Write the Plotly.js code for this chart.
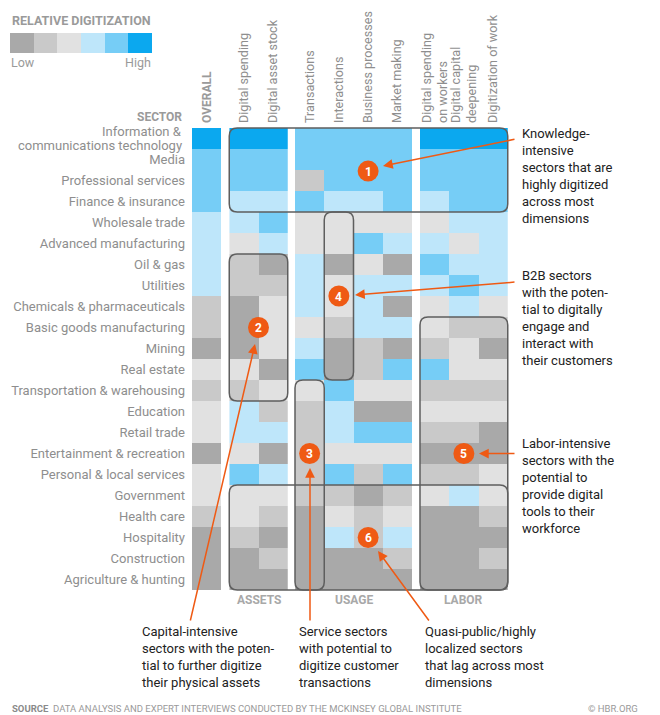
<!DOCTYPE html>
<html>
<head>
<meta charset="utf-8">
<script src="https://cdn.plot.ly/plotly-3.0.1.min.js"></script>
<style>html,body{margin:0;padding:0;background:#fff;}#chart{width:660px;height:715px;}</style>
</head>
<body>
<div id="chart"></div>
<script>
// ---------------- DATA ----------------
const sectors = [
  'Information &<br>communications technology', 'Media', 'Professional services', 'Finance & insurance',
  'Wholesale trade', 'Advanced manufacturing', 'Oil & gas', 'Utilities',
  'Chemicals & pharmaceuticals', 'Basic goods manufacturing', 'Mining', 'Real estate',
  'Transportation & warehousing', 'Education', 'Retail trade', 'Entertainment & recreation',
  'Personal & local services', 'Government', 'Health care', 'Hospitality',
  'Construction', 'Agriculture & hunting'
];
const overallCols = ['Overall'];
const assetCols = ['Digital spending', 'Digital asset stock'];
const usageCols = ['Transactions', 'Interactions', 'Business processes', 'Market making'];
const laborCols = ['Digital spending<br>on workers', 'Digital capital<br>deepening', 'Digitization of work'];
const groupLabels = ['ASSETS', 'USAGE', 'LABOR'];

// levels: 1 = low (dark gray) ... 6 = high (strong blue)
const overall            = [6,5,5,5,4,4,4,4,2,2,1,3,2,3,3,1,3,3,2,1,1,1];
const digitalSpending    = [6,5,5,4,4,3,2,2,1,1,1,3,2,4,4,3,5,3,3,2,1,1];
const digitalAssetStock  = [6,5,5,4,5,4,1,2,3,3,3,1,3,2,4,1,4,3,2,1,2,1];
const transactions       = [5,5,2,5,3,3,4,4,4,3,4,5,3,2,2,2,2,2,1,1,1,1];
const interactions       = [5,5,5,4,3,3,1,3,3,2,1,1,5,4,4,3,5,2,3,4,1,1];
const businessProcesses  = [5,5,5,4,3,5,3,4,4,4,2,2,3,1,5,3,2,1,2,2,1,1];
const marketMaking       = [5,5,5,5,3,4,1,4,1,4,1,5,3,1,5,3,5,2,3,4,2,1];
const spendingOnWorkers  = [6,5,5,4,3,4,5,4,3,3,2,5,2,3,2,1,2,3,1,1,1,1];
const capitalDeepening   = [6,5,5,5,4,3,4,5,4,2,3,3,2,3,2,1,2,4,1,1,1,1];
const digitizationOfWork = [6,5,5,5,4,4,4,4,3,2,1,3,2,3,1,1,3,3,2,1,2,1];
const legendLevels = [1,2,3,4,5,6];

const levelColors = ['#a9a9a9','#c9c9c9','#e1e1e1','#bee6fa','#76cdf6','#0ba8ef'];

// ---------------- GEOMETRY ----------------
const W = 660, H = 715;
const px = x => x / W;
const py = y => 1 - y / H;
const cellW = 29.25, rowH = 21, gridTop = 128;
const gridBottom = gridTop + sectors.length * rowH;
const groupLeft = [192, 229.25, 295, 420];
const groupSizes = [overallCols.length, assetCols.length, usageCols.length, laborCols.length];

function colLeft(ci) {
  let g = 0, idx = ci;
  while (idx >= groupSizes[g]) { idx -= groupSizes[g]; g++; }
  return groupLeft[g] + idx * cellW;
}
const cellX = (ci, f) => colLeft(ci) + f * cellW;
const cellY = r => gridTop + r * rowH;

// discrete colorscale
const cs = [];
levelColors.forEach((c, i) => { cs.push([i / 6, c]); cs.push([(i + 1) / 6, c]); });

function matrix(cols) {
  return sectors.map((s, r) => cols.map(c => c[r]));
}

const groups = [
  {cols: overallCols, data: [overall]},
  {cols: assetCols, data: [digitalSpending, digitalAssetStock]},
  {cols: usageCols, data: [transactions, interactions, businessProcesses, marketMaking]},
  {cols: laborCols, data: [spendingOnWorkers, capitalDeepening, digitizationOfWork]}
];

const traces = groups.map((g, i) => ({
  type: 'heatmap',
  x: g.cols, y: sectors, z: matrix(g.data),
  xaxis: i === 0 ? 'x' : 'x' + (i + 1), yaxis: 'y',
  colorscale: cs, zmin: 0.5, zmax: 6.5, showscale: false, hoverinfo: 'skip'
}));
traces.push({
  type: 'heatmap', x: legendLevels, y: ['legend'], z: [legendLevels],
  xaxis: 'x5', yaxis: 'y2', colorscale: cs, zmin: 0.5, zmax: 6.5,
  showscale: false, hoverinfo: 'skip'
});

const labelGray = '#8e8e8e';
const font = 'Roboto, "Open Sans", sans-serif';

function topAxis(i, cols, tickText, fontOpt) {
  const g = groupLeft[i];
  return {
    domain: [px(g), px(g + cols.length * cellW)], anchor: 'y', side: 'top',
    type: 'category', tickangle: -90, ticks: '', showgrid: false, zeroline: false,
    showline: false, fixedrange: true, ticklabelstandoff: 4,
    tickvals: cols, ticktext: tickText || cols,
    tickfont: fontOpt || {family: font, size: 12.6, color: labelGray}
  };
}

// multi-line sector labels are drawn as separate lines (tighter leading)
const yTickText = sectors.map(s => s.indexOf('<br>') >= 0 ? '' : s);

const layout = {
  width: W, height: H, margin: {l: 0, r: 0, t: 0, b: 0},
  paper_bgcolor: '#fff', plot_bgcolor: '#fff', showlegend: false,
  font: {family: font},
  xaxis: topAxis(0, overallCols, ['<b>OVERALL</b>'], {family: font, size: 12, color: '#9a9a9a'}),
  xaxis2: topAxis(1, assetCols),
  xaxis3: topAxis(2, usageCols),
  xaxis4: topAxis(3, laborCols),
  yaxis: {
    domain: [py(gridBottom), py(gridTop)], anchor: 'x', type: 'category',
    autorange: 'reversed', ticks: '', showgrid: false, zeroline: false, showline: false,
    fixedrange: true, ticklabelstandoff: 6,
    tickvals: sectors, ticktext: yTickText,
    tickfont: {family: font, size: 13, color: labelGray}
  },
  xaxis5: {domain: [px(10), px(152)], anchor: 'y2', visible: false, fixedrange: true},
  yaxis2: {domain: [py(53), py(33)], anchor: 'x5', visible: false, fixedrange: true},
  shapes: [], annotations: []
};

// rounded highlight boxes: [firstCol, lastCol, firstRow, lastRow] (global column index)
const boxes = [[1,9,0,3],[1,2,6,12],[3,3,12,21],[4,4,4,11],[7,9,9,21],[1,9,17,21]];
function roundRectPath(x0, y0, x1, y1, r) {
  const P = (x, y) => px(x).toFixed(5) + ',' + py(y).toFixed(5);
  return 'M' + P(x0 + r, y0) + ' L' + P(x1 - r, y0) + ' Q' + P(x1, y0) + ' ' + P(x1, y0 + r) +
    ' L' + P(x1, y1 - r) + ' Q' + P(x1, y1) + ' ' + P(x1 - r, y1) +
    ' L' + P(x0 + r, y1) + ' Q' + P(x0, y1) + ' ' + P(x0, y1 - r) +
    ' L' + P(x0, y0 + r) + ' Q' + P(x0, y0) + ' ' + P(x0 + r, y0) + ' Z';
}
boxes.forEach(b => {
  layout.shapes.push({
    type: 'path', xref: 'paper', yref: 'paper', layer: 'above',
    path: roundRectPath(colLeft(b[0]), cellY(b[2]), colLeft(b[1]) + cellW, cellY(b[3] + 1), 8),
    line: {color: '#5e5e5e', width: 1.5}, fillcolor: 'rgba(0,0,0,0)'
  });
});

const orange = '#ef5a14';
// numbered markers: [label, col, colFrac, rowPos]
const markers = [['1',5,0.5,2.05],['2',2,0,9.5],['3',3,0.5,15.5],['4',4,0.5,8.0],['5',8,0.5,15.5],['6',5,0.5,19.5]];
markers.forEach(m => {
  const cx = cellX(m[1], m[2]), cy = cellY(m[3]);
  layout.shapes.push({
    type: 'circle', xref: 'paper', yref: 'paper', xsizemode: 'pixel', ysizemode: 'pixel',
    xanchor: px(cx), yanchor: py(cy), x0: -10.5, x1: 10.5, y0: -10.5, y1: 10.5,
    fillcolor: orange, line: {width: 0}, layer: 'above'
  });
  layout.annotations.push({
    xref: 'paper', yref: 'paper', x: px(cx), y: py(cy + 0.5), text: '<b>' + m[0] + '</b>',
    showarrow: false, font: {family: font, size: 12, color: '#fff'}, xanchor: 'center', yanchor: 'middle'
  });
});

// arrows: [headX, headY, tailX, tailY]
const arrows = [[383,166,516,139],[255,344,190,622],[310,468,310,622],[355,295,516,282],[479,453.5,516,453.5],[378,551,430,622]];
arrows.forEach(a => {
  layout.annotations.push({
    xref: 'paper', yref: 'paper', x: px(a[0]), y: py(a[1]), ax: a[2] - a[0], ay: a[3] - a[1],
    text: '', showarrow: true, arrowhead: 2, arrowsize: 1.3, arrowwidth: 1.5,
    arrowcolor: orange, standoff: 0, startstandoff: 0
  });
});

function txt(x, y, text, opt) {
  layout.annotations.push(Object.assign({
    xref: 'paper', yref: 'paper', x: px(x), y: py(y), text: text, showarrow: false,
    xanchor: 'left', yanchor: 'middle', align: 'left',
    font: {family: font, size: 13, color: '#222'}
  }, opt || {}));
}

// multi-line sector labels
sectors.forEach((s, r) => {
  if (s.indexOf('<br>') < 0) return;
  const parts = s.split('<br>');
  const c = cellY(r + 0.5);
  parts.forEach((p, k) => {
    txt(184, c + (k - (parts.length - 1) / 2) * 13.5, p,
        {xanchor: 'right', align: 'right', font: {family: font, size: 13, color: labelGray}});
  });
});

// legend texts
txt(10, 20, '<b>RELATIVE DIGITIZATION</b>', {font: {family: font, size: 12.5, color: '#9a9a9a'}});
txt(9, 63, 'Low', {font: {family: font, size: 12.5, color: '#9a9a9a'}});
txt(153, 63, 'High', {xanchor: 'right', font: {family: font, size: 12.5, color: '#9a9a9a'}});
txt(184, 117, '<b>SECTOR</b>', {xanchor: 'right', font: {family: font, size: 12, color: '#9a9a9a'}});

// group labels
groupLabels.forEach((g, i) => {
  const gi = i + 1;
  txt(groupLeft[gi] + groupSizes[gi] * cellW / 2, 600, '<b>' + g + '</b>',
      {xanchor: 'center', align: 'center', font: {family: font, size: 12, color: '#a8a8a8'}});
});

// callout texts
const noteTop = {yanchor: 'top'};
txt(520, 124, 'Knowledge-<br>intensive<br>sectors that are<br>highly digitized<br>across most<br>dimensions', noteTop);
txt(520, 266, 'B2B sectors<br>with the poten-<br>tial to digitally<br>engage and<br>interact with<br>their customers', noteTop);
txt(520, 434, 'Labor-intensive<br>sectors with the<br>potential to<br>provide digital<br>tools to their<br>workforce', noteTop);
txt(140, 622, 'Capital-intensive<br>sectors with the poten-<br>tial to further digitize<br>their physical assets', noteTop);
txt(297, 622, 'Service sectors<br>with potential to<br>digitize customer<br>transactions', noteTop);
txt(423, 622, 'Quasi-public/highly<br>localized sectors<br>that lag across most<br>dimensions', noteTop);

// source
txt(10, 708, '<b>SOURCE</b>  <span style="color:#9a9a9a">DATA ANALYSIS AND EXPERT INTERVIEWS CONDUCTED BY THE MCKINSEY GLOBAL INSTITUTE</span>',
    {font: {family: font, size: 9.5, color: '#8a8a8a'}});
txt(640, 708, '© HBR.ORG', {xanchor: 'right', font: {family: font, size: 9.5, color: '#9a9a9a'}});

Plotly.newPlot('chart', traces, layout, {displayModeBar: false, staticPlot: true});
</script>
</body>
</html>
